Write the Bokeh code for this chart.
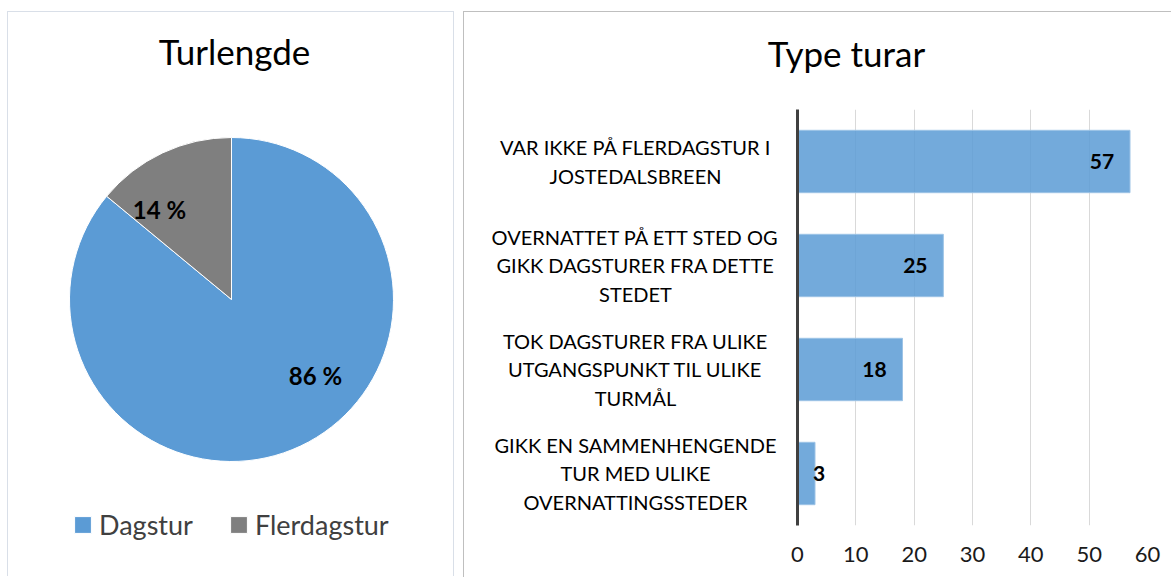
import math
from bokeh.plotting import figure
from bokeh.layouts import row, column
from bokeh.models import (ColumnDataSource, Range1d, FactorRange, Legend,
                          LegendItem, FixedTicker)
from bokeh.embed import file_html
from bokeh.resources import INLINE
from bokeh.core.properties import value

# ---------------- data ----------------
pie_title = "Turlengde"
pie_categories = ["Dagstur", "Flerdagstur"]
pie_shares = [86, 14]
pie_colors = ["#5b9bd5", "#7f7f7f"]

bar_title = "Type turar"
bar_categories = [
    "VAR IKKE PÅ FLERDAGSTUR I\nJOSTEDALSBREEN",
    "OVERNATTET PÅ ETT STED OG\nGIKK DAGSTURER FRA DETTE\nSTEDET",
    "TOK DAGSTURER FRA ULIKE\nUTGANGSPUNKT TIL ULIKE\nTURMÅL",
    "GIKK EN SAMMENHENGENDE\nTUR MED ULIKE\nOVERNATTINGSSTEDER",
]
bar_values = [57, 25, 18, 3]
x_ticks = [0, 10, 20, 30, 40, 50, 60]

# ---------------- styling ----------------
FONT = "Lato"
H = 565          # panel height (content)


def bare(width, height, **kw):
    f = figure(width=width, height=height, x_range=Range1d(0, width),
               y_range=Range1d(0, height), min_border=0,
               x_axis_location=None, y_axis_location=None,
               toolbar_location=None, output_backend="svg", **kw)
    f.grid.visible = False
    f.outline_line_color = None
    return f


# ---------------- pie panel ----------------
P1W = 447
p1 = bare(P1W, H)
p1.styles = {"border-top": "1px solid #d9dfe8", "border-left": "1px solid #d9dfe8",
             "border-right": "1px solid #d9dfe8"}

p1.text(x=[226], y=[527], text=[pie_title], text_align="center",
        text_baseline="alphabetic", text_font=value(FONT), text_font_size="35px",
        text_color="#000000")

cx, cy, rad = 223, 278, 162
total = sum(pie_shares)
starts, ends = [], []
acc = 0
for s in pie_shares:
    starts.append(math.pi / 2 - 2 * math.pi * acc / total)
    acc += s
    ends.append(math.pi / 2 - 2 * math.pi * acc / total)
pie_src = ColumnDataSource(dict(cat=pie_categories, share=pie_shares, color=pie_colors,
                                start=starts, end=ends))
wedges = p1.wedge(x=cx, y=cy, radius=rad, start_angle="start", end_angle="end",
                  direction="clock", fill_color="color", line_color="white",
                  line_width=1, source=pie_src)

# label placement (layout offsets from the pie centre)
lab_dx = [84, -72]
lab_dy = [-76, 90]
pie_lab = ColumnDataSource(dict(
    x=[cx + d for d in lab_dx], y=[cy + d for d in lab_dy],
    text=[f"{s} %" for s in pie_shares]))
p1.text(x="x", y="y", text="text", source=pie_lab, text_align="center",
        text_baseline="middle", text_font=value(FONT), text_font_style="bold",
        text_font_size="24px", text_color="#000000")

legend = Legend(items=[LegendItem(label=c, renderers=[wedges], index=i)
                       for i, c in enumerate(pie_categories)],
                orientation="horizontal", location=(64, 36),
                glyph_width=21, glyph_height=21, label_standoff=6, spacing=35,
                padding=0, margin=0, border_line_color=None,
                background_fill_alpha=0, label_text_font=FONT,
                label_text_font_size="27px", label_text_color="#404040")
p1.add_layout(legend)

# ---------------- bar panel ----------------
RW = 707          # right panel content width
TITLE_H = 97
LAB_W = 323
P2W = RW - LAB_W
BODY_H = H - TITLE_H
BOTTOM = 52

p_title = bare(RW, TITLE_H)
p_title.text(x=[382], y=[57], text=[bar_title], text_align="center",
             text_baseline="alphabetic", text_font=value(FONT), text_font_size="35px",
             text_color="#000000")

y_range = FactorRange(*reversed(bar_categories))

p_lab = figure(width=LAB_W, height=BODY_H, x_range=Range1d(0, LAB_W), y_range=y_range,
               min_border_left=0, min_border_right=0, min_border_top=0,
               min_border_bottom=BOTTOM, x_axis_location=None, y_axis_location=None,
               toolbar_location=None, output_backend="svg")
p_lab.grid.visible = False
p_lab.outline_line_color = None
lab_src = ColumnDataSource(dict(cat=bar_categories, x=[171] * len(bar_categories)))
p_lab.text(x="x", y="cat", text="cat", source=lab_src, text_align="center",
           text_baseline="middle", text_font=value(FONT), text_font_size="20px",
           text_line_height=1.18, text_color="#000000")

p2 = figure(width=P2W, height=BODY_H, x_range=Range1d(0, 60), y_range=y_range,
            min_border_left=10, min_border_right=P2W - 10 - 350,
            min_border_top=0, min_border_bottom=BOTTOM,
            toolbar_location=None, output_backend="svg")
p2.outline_line_color = None

bar_src = ColumnDataSource(dict(cat=bar_categories, val=bar_values,
                                lab=[str(v) for v in bar_values],
                                xoff=[-28 if v > 5 else 4 for v in bar_values]))
p2.hbar(y="cat", left=0, right="val", height=0.6, source=bar_src,
        fill_color="#5b9bd5", fill_alpha=0.85, line_color="#9dc3e6", line_width=1)
p2.text(x="val", y="cat", text="lab", x_offset="xoff", source=bar_src,
        text_align="center", text_baseline="middle", text_font=value(FONT),
        text_font_style="bold", text_font_size="21px", text_color="#000000")

p2.xgrid.grid_line_color = "#d9d9d9"
p2.ygrid.grid_line_color = None

p2.xaxis.ticker = FixedTicker(ticks=x_ticks)
p2.xaxis.axis_line_color = None
p2.xaxis.major_tick_line_color = None
p2.xaxis.minor_tick_line_color = None
p2.xaxis.major_label_standoff = 15
p2.xaxis.major_label_text_font = FONT
p2.xaxis.major_label_text_font_size = "22px"
p2.xaxis.major_label_text_color = "#1a1a1a"

p2.yaxis.axis_line_color = "#404040"
p2.yaxis.axis_line_width = 3
p2.yaxis.major_tick_line_color = None
p2.yaxis.minor_tick_line_color = None
p2.yaxis.major_label_text_font_size = "0px"
p2.yaxis.major_label_text_color = None
p2.yaxis.major_label_standoff = 0

right_panel = column(p_title, row(p_lab, p2, spacing=0), spacing=0,
                     styles={"border-top": "1px solid #bfbfbf",
                             "border-left": "1px solid #bfbfbf"})

layout = row(p1, right_panel, spacing=9, margin=(11, 0, 0, 7))
open("out.html", "w").write(file_html(layout, INLINE))
